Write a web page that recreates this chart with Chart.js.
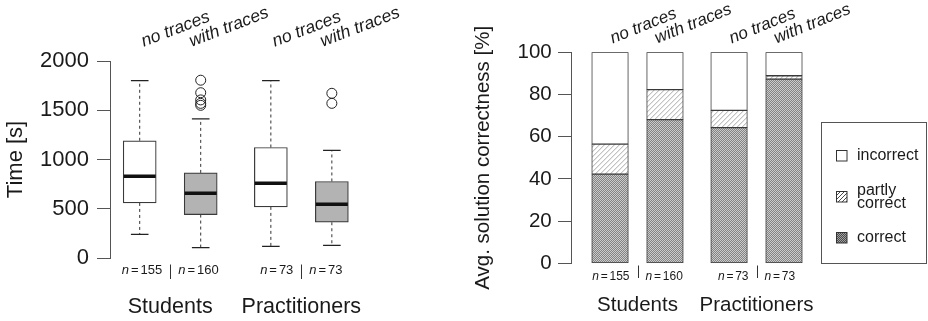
<!DOCTYPE html>
<html><head><meta charset="utf-8">
<script src="https://cdn.jsdelivr.net/npm/chart.js@4.4.1/dist/chart.umd.min.js"></script>
<style>
html,body{margin:0;padding:0;background:#fff;width:928px;height:321px;overflow:hidden}
#left{position:absolute;left:0;top:0}
#right{position:absolute;left:464px;top:0}
</style></head><body>
<canvas id="left" width="464" height="321"></canvas>
<canvas id="right" width="464" height="321"></canvas>
<script>
// ---------------- data ----------------
const groups = ['Students', 'Practitioners'];
const conditions = ['no traces', 'with traces'];
const nCounts = [155, 160, 73, 73];
// Time [s] box plots (one entry per group x condition)
const timeLowWhisker  = [240, 106, 119, 129];
const timeQ1          = [559, 441, 519, 363];
const timeMedian      = [831, 658, 760, 546];
const timeQ3          = [1190, 864, 1122, 777];
const timeHighWhisker = [1800, 1413, 1800, 1092];
const timeOutliers    = [[], [1805, 1678, 1605, 1570, 1550], [], [1672, 1570]];
const timeTicks = [0, 500, 1000, 1500, 2000];
// Avg. solution correctness [%]
const correct       = [42.3, 68.1, 64.3, 87.3];
const partlyCorrect = [14.2, 14.2, 8.2, 1.6];
const incorrect     = [43.5, 17.7, 27.5, 11.1];
const pctTicks = [0, 20, 40, 60, 80, 100];
const legendLabels = ['incorrect', ['partly', 'correct'], 'correct'];

// ---------------- layout helpers ----------------
const FONT = "'Liberation Sans', Arial, Helvetica, sans-serif";
const TXT = '#1a1a1a';
const AX = '#555';
Chart.defaults.font.family = FONT;
Chart.defaults.color = TXT;
const LEFT_GROUP_GAP = 0.15, RIGHT_STEP = 1.5, RIGHT_GROUP_GAP = 0.25;
const xL = k => k + Math.floor(k / 2) * LEFT_GROUP_GAP;
const xR = k => k * RIGHT_STEP + Math.floor(k / 2) * RIGHT_GROUP_GAP;
const cond = k => conditions[k % 2];

function makePattern(size, bg, fg, soft) {
  const c = document.createElement('canvas'); c.width = size; c.height = size;
  const g = c.getContext('2d');
  g.fillStyle = bg; g.fillRect(0, 0, size, size);
  for (let i = 0; i < size; i++) {
    g.fillStyle = fg; g.fillRect(i, size - 1 - i, 1, 1);
    if (soft) { g.fillStyle = soft; g.fillRect((i + 1) % size, size - 1 - i, 1, 1); }
  }
  return g.createPattern(c, 'repeat');
}
const correctFill = makePattern(2, '#cbcbcb', '#838383');
const partlyFill = makePattern(5, '#ffffff', '#c2c2c2', '#e6e6e6');
const correctLegend = makePattern(2, '#a0a0a0', '#4a4a4a');
const partlyLegend = makePattern(4, '#ffffff', '#4a4a4a');

function drawN(ctx, num, x, y, align, size) {
  ctx.font = `italic ${size}px ${FONT}`; const wn = ctx.measureText('n').width;
  ctx.font = `${size}px ${FONT}`;
  const we = ctx.measureText('=').width, wv = ctx.measureText(String(num)).width;
  const g = size * 0.15;
  const total = wn + g + we + g + wv;
  let x0 = align === 'right' ? x - total : x;
  ctx.textAlign = 'left'; ctx.textBaseline = 'middle';
  ctx.font = `italic ${size}px ${FONT}`; ctx.fillText('n', x0, y); x0 += wn + g;
  ctx.font = `${size}px ${FONT}`; ctx.fillText('=', x0, y); x0 += we + g;
  ctx.fillText(String(num), x0, y);
}

function annotations(chart, cfg) {
  const ctx = chart.ctx, xs = chart.scales.x;
  ctx.save();
  ctx.fillStyle = TXT;
  ctx.font = `italic ${cfg.topSize}px ${FONT}`;
  ctx.textAlign = 'left'; ctx.textBaseline = 'alphabetic';
  nCounts.forEach((n, k) => {
    const px = xs.getPixelForValue(cfg.pos(k)) + (k % 2 === 0 ? cfg.offNo : cfg.offWith);
    ctx.save(); ctx.translate(px, cfg.topY); ctx.rotate(-cfg.angle * Math.PI / 180);
    ctx.fillText(cond(k), 0, 0); ctx.restore();
  });
  groups.forEach((gname, g) => {
    const a = xs.getPixelForValue(cfg.pos(2 * g)), b = xs.getPixelForValue(cfg.pos(2 * g + 1));
    const mid = (a + b) / 2;
    drawN(ctx, nCounts[2 * g], mid - 8, cfg.nY, 'right', cfg.nSize);
    drawN(ctx, nCounts[2 * g + 1], mid + 8, cfg.nY, 'left', cfg.nSize);
    ctx.strokeStyle = '#333'; ctx.lineWidth = 1;
    ctx.beginPath(); ctx.moveTo(Math.round(mid) + 0.5, cfg.sepY0); ctx.lineTo(Math.round(mid) + 0.5, cfg.sepY1); ctx.stroke();
    ctx.font = `${cfg.groupSize}px ${FONT}`; ctx.textAlign = 'center'; ctx.textBaseline = 'middle';
    ctx.fillText(gname, mid, cfg.groupY);
  });
  ctx.restore();
}

// ---------------- left chart: time box plots ----------------
const boxData = timeQ1.map((q, k) => ({ x: xL(k), y: [q, timeQ3[k]] }));
const whiskerData = [];
const capData = [];
timeQ1.forEach((q, k) => {
  const x = xL(k);
  whiskerData.push({ x, y: timeQ3[k] }, { x, y: timeHighWhisker[k] }, { x, y: null },
                   { x, y: q }, { x, y: timeLowWhisker[k] }, { x, y: null });
  capData.push({ x, y: timeHighWhisker[k] }, { x, y: timeLowWhisker[k] });
});
const medianData = timeMedian.map((m, k) => ({ x: xL(k), y: m }));
const outlierData = [];
timeOutliers.forEach((arr, k) => arr.forEach(v => outlierData.push({ x: xL(k), y: v })));

new Chart(document.getElementById('left'), {
  type: 'bar',
  data: {
    datasets: [
      { type: 'line', data: whiskerData, borderColor: '#333', borderWidth: 1, borderDash: [3, 3],
        pointRadius: 0, spanGaps: false, order: 5 },
      { type: 'bar', data: boxData, backgroundColor: ['#ffffff', '#b3b3b3', '#ffffff', '#b3b3b3'],
        borderColor: '#3a3a3a', borderWidth: 1.2, borderSkipped: false, barThickness: 33, order: 4 },
      { type: 'line', data: capData, showLine: false, pointStyle: 'line', pointRadius: 8.8,
        pointBorderWidth: 1.2, pointBorderColor: '#222', order: 3 },
      { type: 'line', data: medianData, showLine: false, pointStyle: 'line', pointRadius: 16,
        pointBorderWidth: 3.5, pointBorderColor: '#111', order: 2 },
      { type: 'line', data: outlierData, showLine: false, pointStyle: 'circle', pointRadius: 5,
        pointBorderWidth: 1, pointBorderColor: '#222', pointBackgroundColor: 'rgba(255,255,255,0)', order: 1 }
    ]
  },
  options: {
    responsive: false, animation: false, events: [],
    layout: { padding: { left: 0, top: 61, right: 92.5, bottom: 63 } },
    plugins: { legend: { display: false }, tooltip: { enabled: false } },
    scales: {
      x: { type: 'linear', display: false, offset: false, min: -0.487, max: 3.8 },
      y: {
        type: 'linear', min: 0, max: 2000,
        afterBuildTicks: s => { s.ticks = timeTicks.map(v => ({ value: v })); },
        afterFit: s => { s.width = 110; },
        ticks: { font: { size: 22 }, color: TXT, padding: 8, callback: v => String(v) },
        grid: { drawOnChartArea: false, drawTicks: true, tickLength: 13, color: AX, lineWidth: 1 },
        border: { display: true, color: AX, width: 1 },
        title: { display: true, text: 'Time [s]', font: { size: 22 }, color: TXT, padding: { top: 3, bottom: 0 } }
      }
    }
  },
  plugins: [{
    id: 'annotLeft',
    afterDraw: chart => annotations(chart, {
      pos: xL, topSize: 17.5, offNo: 4, offWith: -9, topY: 46.7, angle: 21,
      nY: 270.5, nSize: 13, sepY0: 264.5, sepY1: 279, groupSize: 21.5, groupY: 307.5
    })
  }]
});

// ---------------- right chart: correctness stacked bars ----------------
const BAR_W = 36.6;
new Chart(document.getElementById('right'), {
  type: 'bar',
  data: {
    datasets: [
      { label: 'correct', data: correct.map((v, k) => ({ x: xR(k), y: v })), backgroundColor: correctFill,
        borderColor: '#3a3a3a', borderWidth: 1, borderSkipped: false, barThickness: BAR_W, stack: 's' },
      { label: 'partly correct', data: partlyCorrect.map((v, k) => ({ x: xR(k), y: v })), backgroundColor: partlyFill,
        borderColor: '#3a3a3a', borderWidth: 1, borderSkipped: false, barThickness: BAR_W, stack: 's' },
      { label: 'incorrect', data: incorrect.map((v, k) => ({ x: xR(k), y: v })), backgroundColor: '#ffffff',
        borderColor: '#3a3a3a', borderWidth: 1, borderSkipped: false, barThickness: BAR_W, stack: 's' }
    ]
  },
  options: {
    responsive: false, animation: false, events: [],
    layout: { padding: { left: 0, top: 52.3, right: 118, bottom: 57.7 } },
    plugins: { legend: { display: false }, tooltip: { enabled: false } },
    scales: {
      x: { type: 'linear', display: false, offset: false, min: -1.066, max: 5.46 },
      y: {
        type: 'linear', min: 0, max: 100, stacked: true,
        afterBuildTicks: s => { s.ticks = pctTicks.map(v => ({ value: v })); },
        afterFit: s => { s.width = 107; },
        ticks: { font: { size: 20.5 }, color: TXT, padding: 6.3, callback: v => String(v) },
        grid: { drawOnChartArea: false, drawTicks: true, tickLength: 13, color: AX, lineWidth: 1 },
        border: { display: true, color: AX, width: 1 },
        title: { display: true, text: 'Avg. solution correctness [%]', font: { size: 20.5 }, color: TXT,
                 padding: { top: 6.7, bottom: 0 } }
      }
    }
  },
  plugins: [{
    id: 'annotRight',
    afterDraw: chart => {
      annotations(chart, {
        pos: xR, topSize: 17, offNo: 2.7, offWith: -7.6, topY: 43.6, angle: 22,
        nY: 276.7, nSize: 12, sepY0: 265.5, sepY1: 278, groupSize: 20.5, groupY: 305.8
      });
      const ctx = chart.ctx, ca = chart.chartArea;
      const bx = ca.right + 10.7, by = 122.3, bw = 105, bh = ca.bottom - 122.3;
      ctx.save();
      ctx.strokeStyle = AX; ctx.lineWidth = 1;
      ctx.strokeRect(Math.round(bx) + 0.5, Math.round(by) + 0.5, Math.round(bw), Math.round(bh));
      const fills = ['#ffffff', partlyLegend, correctLegend];
      const ys = [155.7, 196.7, 237.7];
      legendLabels.forEach((lab, i) => {
        const s = 10.5, sx = Math.round(bx + 15) + 0.5, sy = Math.round(ys[i] - s / 2) + 0.5;
        ctx.fillStyle = fills[i]; ctx.fillRect(sx, sy, s, s);
        ctx.strokeStyle = '#333'; ctx.strokeRect(sx, sy, s, s);
        ctx.fillStyle = TXT; ctx.font = `16px ${FONT}`; ctx.textAlign = 'left'; ctx.textBaseline = 'middle';
        if (Array.isArray(lab)) {
          ctx.fillText(lab[0], bx + 36.3, ys[i] - 6.5);
          ctx.fillText(lab[1], bx + 36.3, ys[i] + 6.5);
        } else {
          ctx.fillText(lab, bx + 36.3, ys[i]);
        }
      });
      ctx.restore();
    }
  }]
});
</script>
</body></html>
